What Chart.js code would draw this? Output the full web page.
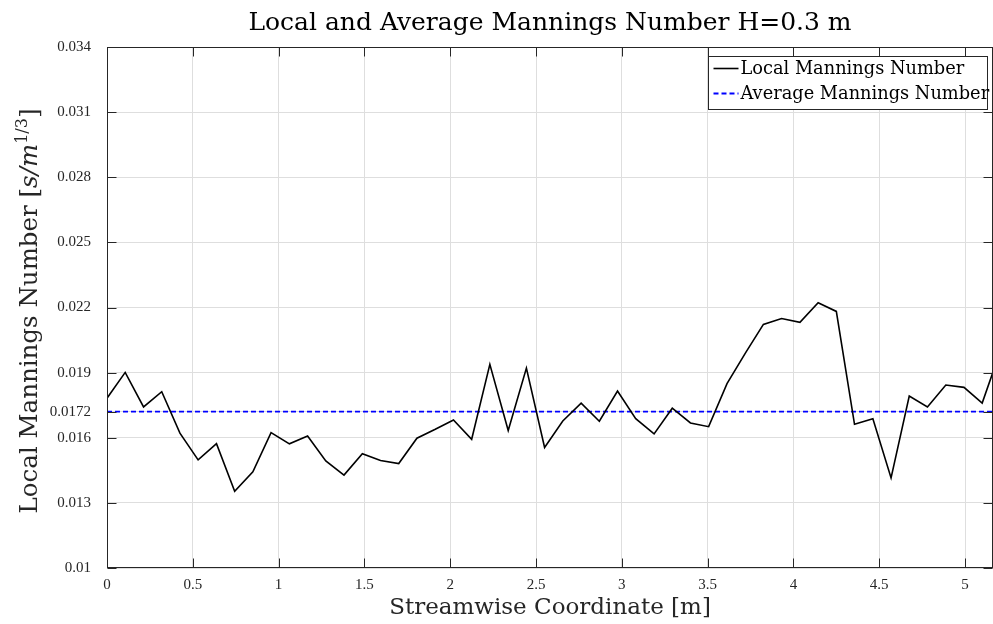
<!DOCTYPE html>
<html>
<head>
<meta charset="utf-8">
<script src="https://cdn.jsdelivr.net/npm/chart.js@4"></script>
<style>
  html, body { margin: 0; padding: 0; background: #fff; }
  #wrap { width: 993px; height: 624px; position: relative; }
</style>
</head>
<body>
<div id="wrap"><canvas id="chart"></canvas></div>
<script>
// ── Data ───────────────────────────────────────────────────────────────────
const positions = [
  0, 0.106, 0.213, 0.319, 0.425, 0.531, 0.638, 0.744, 0.850, 0.956,
  1.063, 1.169, 1.275, 1.381, 1.488, 1.594, 1.700, 1.806, 1.913, 2.019,
  2.125, 2.231, 2.338, 2.444, 2.550, 2.656, 2.763, 2.869, 2.975, 3.081,
  3.188, 3.294, 3.400, 3.506, 3.613, 3.719, 3.825, 3.931, 4.038, 4.144,
  4.250, 4.356, 4.463, 4.569, 4.675, 4.781, 4.888, 4.994, 5.100, 5.206
]
const localManning = [
  0.01782, 0.01901, 0.01742, 0.01812, 0.01621, 0.01498, 0.01573, 0.01353, 0.01443, 0.01624,
  0.01572, 0.01608, 0.01493, 0.01428, 0.01526, 0.01495, 0.01481, 0.01598, 0.01639, 0.01682,
  0.01593, 0.01938, 0.01633, 0.01921, 0.01555, 0.01677, 0.01759, 0.01676, 0.01815, 0.01688,
  0.01618, 0.01736, 0.01668, 0.01651, 0.01849, 0.01989, 0.02122, 0.02149, 0.02132, 0.02222,
  0.02182, 0.01662, 0.01688, 0.01415, 0.01792, 0.01742, 0.01843, 0.01832, 0.01760, 0.02000
]
const averageManning = 0.0172
const xTicks = [0, 0.5, 1, 1.5, 2, 2.5, 3, 3.5, 4, 4.5, 5]
const xTickLabels = ['0', '0.5', '1', '1.5', '2', '2.5', '3', '3.5', '4', '4.5', '5']
const yTicks = [0.01, 0.013, 0.016, 0.0172, 0.019, 0.022, 0.025, 0.028, 0.031, 0.034]
const yTickLabels = ['0.01', '0.013', '0.016', '0.0172', '0.019', '0.022', '0.025', '0.028', '0.031', '0.034']
const X_MAX = 5.163
const TITLE = 'Local and Average Mannings Number H=0.3 m'

// ── Styling ────────────────────────────────────────────────────────────────
const TICK_FONT = "'Liberation Serif', serif"
const TEXT_FONT = "'DejaVu Serif', 'Liberation Serif', serif"
const AXIS_COLOR = '#262626'
const GRID_COLOR = '#dedede'

// ── Box, inward ticks, legend, title and y title (MATLAB look) ─────────────
const matlabFrame = {
  id: 'matlabFrame',
  afterDatasetsDraw(chart) {
    const { ctx, chartArea: a, scales } = chart
    const L = Math.round(a.left) + 0.5, R = Math.round(a.right) - 0.5
    const T = Math.round(a.top) + 0.5, B = Math.round(a.bottom) - 0.5
    ctx.save()
    ctx.strokeStyle = AXIS_COLOR
    ctx.lineWidth = 1
    ctx.strokeRect(L, T, R - L, B - T)

    // inward tick marks
    const tl = 9
    ctx.beginPath()
    xTicks.forEach(v => {
      const px = Math.round(scales.x.getPixelForValue(v)) + 0.5
      ctx.moveTo(px, B); ctx.lineTo(px, B - tl)
      ctx.moveTo(px, T); ctx.lineTo(px, T + tl)
    })
    yTicks.forEach(v => {
      const py = Math.round(scales.y.getPixelForValue(v)) + 0.5
      ctx.moveTo(L, py); ctx.lineTo(L + tl, py)
      ctx.moveTo(R, py); ctx.lineTo(R - tl, py)
    })
    ctx.stroke()

    // title, centred over the plot area
    ctx.fillStyle = '#000'
    ctx.font = '25px ' + TEXT_FONT
    ctx.textAlign = 'center'
    ctx.textBaseline = 'middle'
    ctx.fillText(TITLE, (a.left + a.right) / 2, 23)

    // legend box
    const lx = 708.5, ly = 56.5, lw = 279, lh = 53
    ctx.fillStyle = '#fff'
    ctx.fillRect(lx, ly, lw, lh)
    ctx.strokeRect(lx, ly, lw, lh)
    ctx.font = '17.8px ' + TEXT_FONT
    ctx.textAlign = 'left'
    chart.data.datasets.forEach((ds, i) => {
      const cy = ly + 12 + i * 25
      ctx.beginPath()
      ctx.strokeStyle = ds.borderColor
      ctx.lineWidth = ds.borderWidth
      ctx.setLineDash(ds.borderDash || [])
      ctx.moveTo(lx + 5, cy); ctx.lineTo(lx + 30, cy)
      ctx.stroke()
      ctx.setLineDash([])
      ctx.fillStyle = '#000'
      ctx.fillText(ds.label, lx + 32, cy + 1)
    })

    // y axis title with italic units and superscript
    ctx.translate(28, 311)
    ctx.rotate(-Math.PI / 2)
    ctx.fillStyle = AXIS_COLOR
    ctx.textBaseline = 'alphabetic'
    const parts = [
      { t: 'Local Mannings Number [', f: '24.5px ' + TEXT_FONT, dy: 0 },
      { t: 's/m', f: 'italic 24.5px ' + TEXT_FONT, dy: 0 },
      { t: '1/3', f: '16px ' + TEXT_FONT, dy: -10 },
      { t: ']', f: '24.5px ' + TEXT_FONT, dy: 0 }
    ]
    let total = 0
    parts.forEach(p => { ctx.font = p.f; p.w = ctx.measureText(p.t).width; total += p.w })
    let x = -total / 2
    parts.forEach(p => {
      ctx.font = p.f
      ctx.fillText(p.t, x, 9 + p.dy)
      x += p.w
    })
    ctx.restore()
  }
}

// ── Chart ──────────────────────────────────────────────────────────────────
new Chart(document.getElementById('chart'), {
  type: 'line',
  data: {
    datasets: [{
      label: 'Local Mannings Number',
      data: positions.map((x, i) => ({ x, y: localManning[i] })),
      borderColor: '#000000',
      borderWidth: 1.6,
      pointRadius: 0,
      tension: 0
    }, {
      label: 'Average Mannings Number',
      data: [{ x: 0, y: averageManning }, { x: X_MAX, y: averageManning }],
      borderColor: '#0000ff',
      borderWidth: 1.8,
      borderDash: [5, 3],
      pointRadius: 0
    }]
  },
  options: {
    responsive: true,
    maintainAspectRatio: false,
    animation: false,
    layout: { padding: { left: 0, right: 0, top: 47, bottom: 0 } },
    plugins: {
      legend: { display: false },
      tooltip: { enabled: false },
      title: { display: false }
    },
    scales: {
      x: {
        type: 'linear',
        min: 0, max: X_MAX,
        afterBuildTicks: s => { s.ticks = xTicks.map(v => ({ value: v })) },
        afterFit: s => { s.height = 56 },
        ticks: {
          color: AXIS_COLOR,
          font: { family: TICK_FONT, size: 15 },
          padding: 8,
          maxRotation: 0,
          autoSkip: false,
          callback: (v, i) => xTickLabels[i]
        },
        grid: { color: GRID_COLOR, drawTicks: false },
        border: { display: false },
        title: {
          display: true,
          text: 'Streamwise Coordinate [m]',
          color: AXIS_COLOR,
          font: { family: TEXT_FONT, size: 23 },
          padding: { top: 0, bottom: 2 }
        }
      },
      y: {
        min: 0.01, max: 0.034,
        afterBuildTicks: s => { s.ticks = yTicks.map(v => ({ value: v })) },
        afterFit: s => { s.width = 107 },
        ticks: {
          color: AXIS_COLOR,
          font: { family: TICK_FONT, size: 15 },
          padding: 16,
          autoSkip: false,
          callback: (v, i) => yTickLabels[i]
        },
        grid: { color: GRID_COLOR, drawTicks: false },
        border: { display: false }
      }
    }
  },
  plugins: [matlabFrame]
})
</script>
</body>
</html>
